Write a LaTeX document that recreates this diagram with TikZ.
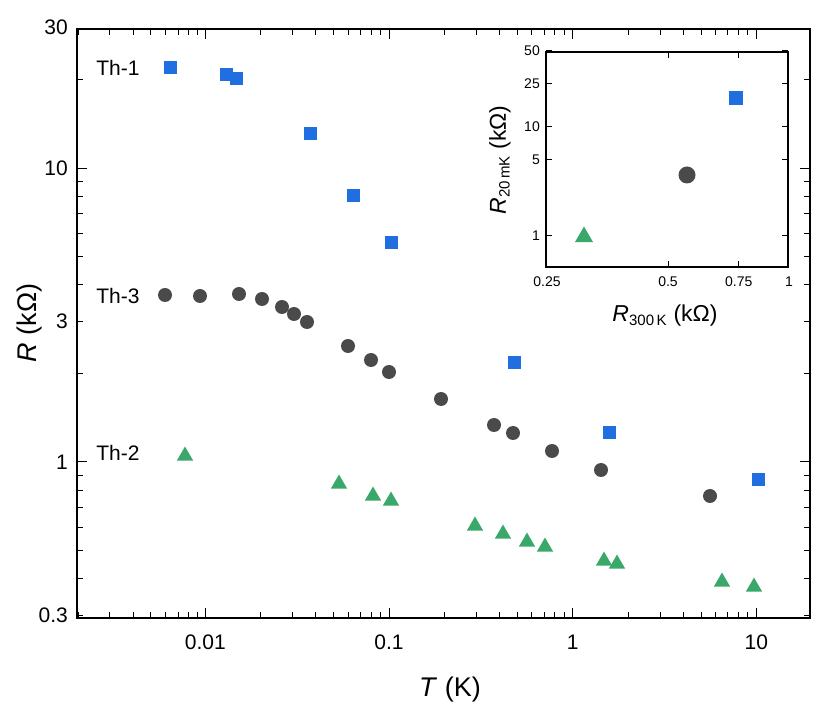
\documentclass[tikz,border=0pt]{standalone}
\usepackage{fontspec}
\setmainfont{Liberation Sans}
\usetikzlibrary{shapes.geometric}
\definecolor{sqblue}{HTML}{1F6FE0}
\definecolor{cgray}{HTML}{4A4A4A}
\definecolor{tgreen}{HTML}{3AA86B}
\tikzset{
 sq/.style={rectangle,fill=sqblue,minimum size=13pt,inner sep=0pt},
 ci/.style={circle,fill=cgray,minimum size=14pt,inner sep=0pt},
 tr/.style={regular polygon,regular polygon sides=3,fill=tgreen,minimum size=19pt,inner sep=0pt,yshift=-2pt},
 isq/.style={sq,minimum size=14pt},
 ici/.style={ci,minimum size=17pt},
 itr/.style={tr,minimum size=21pt},
 lab/.style={font=\fontsize{21}{24}\selectfont,inner sep=0pt},
 ilab/.style={font=\fontsize{14}{16}\selectfont,inner sep=0pt},
 big/.style={inner sep=0pt,font=\fontsize{27}{30}\selectfont},
 ibig/.style={inner sep=0pt,font=\fontsize{23}{26}\selectfont},
 axis/.style={line width=1.5pt},
 tk/.style={line width=1pt}
}
\begin{document}
\begin{tikzpicture}[x=1pt,y=-1pt]
\useasboundingbox (0,0) rectangle (831,708);
\draw[axis] (77,29) rectangle (810,618);
\foreach \e in {0.001,0.01,0.1,1,10}{
 \foreach \m in {1,...,9}{
  \pgfmathsetmacro\xx{389+183.7*log10(\m*\e/0.1)}
  \ifdim\xx pt>78pt \ifdim\xx pt<809pt
   \ifnum\m=1 \def\L{10}\else\def\L{6}\fi
   \draw[tk] (\xx,618) -- ++(0,-\L);
   \draw[tk] (\xx,29) -- ++(0,\L);
  \fi\fi
 }}
\foreach \e in {0.1,1,10}{
 \foreach \m in {1,...,9}{
  \pgfmathsetmacro\yy{462-294*log10(\m*\e)}
  \ifdim\yy pt>28pt \ifdim\yy pt<619pt
   \ifnum\m=1 \def\L{10}\else\def\L{6}\fi
   \draw[tk] (77,\yy) -- ++(\L,0);
   \draw[tk] (810,\yy) -- ++(-\L,0);
  \fi\fi
 }}
\foreach \v/\t in {0.01/0.01,0.1/0.1,1/1,10/10}{
 \pgfmathsetmacro\xx{389+183.7*log10(\v/0.1)}
 \node[lab] at (\xx,642) {\t};}
\foreach \v/\t in {30/30,10/10,3/3,1/1,0.3/0.3}{
 \pgfmathsetmacro\yy{462-294*log10(\v)}
 \node[lab,anchor=east] at (68,\yy) {\t};}
\node[big] (xl) at (450,690) {\textit{T} (K)};
\node[big,rotate=90] (yl) at (30,323) {\textit{R} (kΩ)};
\node[lab] (t1) at (118,68) {Th-1};
\node[lab] (t3) at (118,296) {Th-3};
\node[lab] (t2) at (118,453) {Th-2};
\foreach \x/\y [count=\i] in {170/68,226/75,236/79,310/134,353/196,391/243,514/363,609/433,758/480}
 \node[sq] (s\i) at (\x,\y) {};
\foreach \x/\y [count=\i] in {165/295,200/296,239/294,262/299,282/307,294/314,307/322,348/346,371/360,389/372,441/399,494/425,513/433,552/451,601/470,710/496}
 \node[ci] (c\i) at (\x,\y) {};
\foreach \x/\y [count=\i] in {185/454,339/482,373/494,391/499,475/524,503/532,527/540,545/545,604/559,617/562,722/580,754/585}
 \node[tr] (g\i) at (\x,\y) {};
\fill[white] (546,52) rectangle (788,267);
\draw[axis] (546,52) rectangle (788,267);
\foreach \v/\t in {0.25/0.25,0.5/0.5,0.75/0.75,1/1}{
 \pgfmathsetmacro\xx{668+402*log10(\v/0.5)}
 \draw[tk] (\xx,267) -- ++(0,-6);
 \draw[tk] (\xx,52) -- ++(0,6);
 \node[ilab] at (\xx,282) {\t};}
\foreach \v/\t in {50/50,25/25,10/10,5/5,1/1}{
 \pgfmathsetmacro\yy{236-109*log10(\v)}
 \draw[tk] (546,\yy) -- ++(6,0);
 \draw[tk] (788,\yy) -- ++(-6,0);
 \node[ilab,anchor=east] at (540,\yy) {\t};}
\node[ibig] (ixl) at (665,316) {\textit{R}\textsubscript{\fontsize{15}{16}\selectfont 300\,K} (kΩ)};
\node[ibig,rotate=90] (iyl) at (500,160) {\textit{R}\textsubscript{\fontsize{15}{16}\selectfont 20\,mK} (kΩ)};
\node[isq] (is) at (736,98) {};
\node[ici] (ic) at (687,175) {};
\node[itr] (it) at (584,235) {};
\end{tikzpicture}
\end{document}
